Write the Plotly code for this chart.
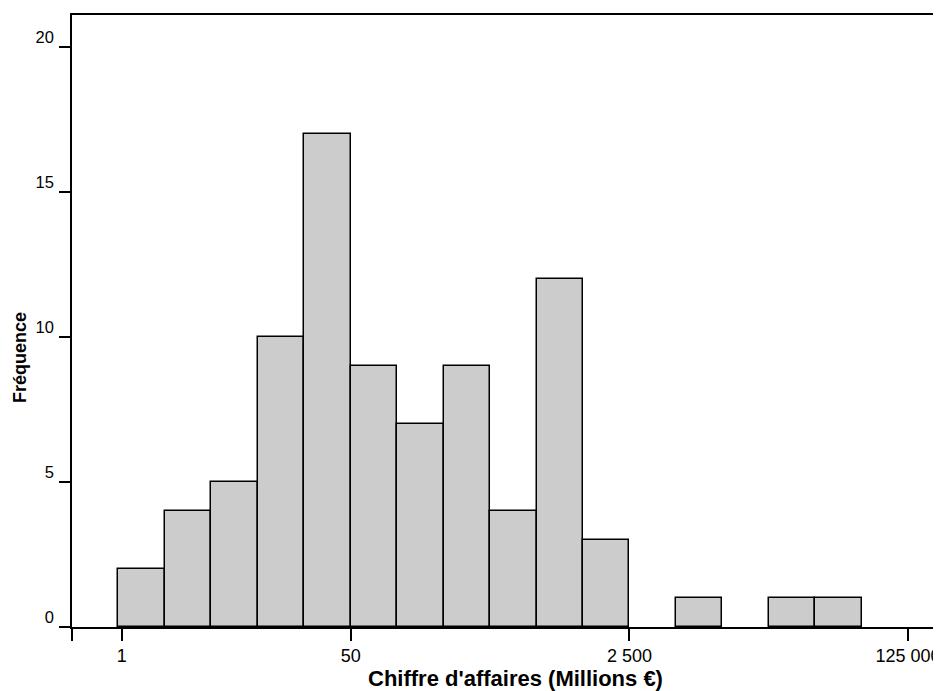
import plotly.graph_objects as go

# Histogram bins (index of bin on the log50 axis, 6 bins per factor of 50)
bin_index = [1, 2, 3, 4, 5, 6, 7, 8, 9, 10, 11, 12, 13, 14, 15, 16]
counts = [2, 4, 5, 10, 17, 9, 7, 9, 4, 12, 3, 0, 1, 0, 1, 1]

x_tick_pos = [0, 1.07, 6, 12, 18]
x_tick_labels = ["", "1", "50", "2 500", "125 000"]
y_tick_vals = [0, 5, 10, 15, 20]
y_tick_labels = ["0", "5", "10", "15", "20"]

x_title = "Chiffre d'affaires (Millions €)"
y_title = "Fréquence"

centers = [b + 0.5 for b in bin_index]
line_widths = [1.5 if c > 0 else 0 for c in counts]

fig = go.Figure()
fig.add_trace(go.Bar(
    x=centers, y=counts, width=1,
    marker=dict(color="#cccccc", line=dict(color="black", width=line_widths)),
    showlegend=False,
))

# page has an 8px body margin: compensate
OFF = 8
W, H = 941 - OFF, 691 - OFF
L, R, T, B = 72 - OFF, 0, 15 - OFF, 691 - 627
bin_px = 46.45
x_max = (W - L - R) / bin_px
pw, ph = W - L - R, H - T - B

fig.update_layout(
    width=W, height=H,
    margin=dict(l=L, r=R, t=T, b=B, pad=0),
    plot_bgcolor="white", paper_bgcolor="white",
    font=dict(family="Liberation Sans, Arial, sans-serif", size=16.5, color="black"),
    bargap=0,
    xaxis=dict(
        range=[0, x_max], showgrid=False, zeroline=False,
        showline=True, linecolor="black", linewidth=1.5, mirror=True,
        ticks="outside", ticklen=12, tickwidth=1.5, tickcolor="black",
        tickvals=x_tick_pos, ticktext=x_tick_labels,
        tickfont=dict(size=18),
        ticklabelstandoff=0, automargin=False,
    ),
    yaxis=dict(
        range=[0, 21.1], showgrid=False, zeroline=False,
        showline=True, linecolor="black", linewidth=1.5,
        ticks="outside", ticklen=11, tickwidth=1.5, tickcolor="black",
        tickvals=y_tick_vals, ticktext=y_tick_labels,
        ticklabelshift=-10, ticklabelstandoff=2, automargin=False,
    ),
    annotations=[
        dict(text="<b>" + x_title + "</b>", xref="paper", yref="paper",
             x=(515 - 72) / pw, y=-(678 - 627) / ph,
             xanchor="center", yanchor="middle", showarrow=False,
             font=dict(size=22)),
        dict(text="<b>" + y_title + "</b>", xref="paper", yref="paper",
             x=-(72 - 20) / pw, y=(627 - 358) / ph,
             xanchor="center", yanchor="middle", textangle=-90, showarrow=False,
             font=dict(size=18)),
    ],
)

fig.write_html("out.html")
